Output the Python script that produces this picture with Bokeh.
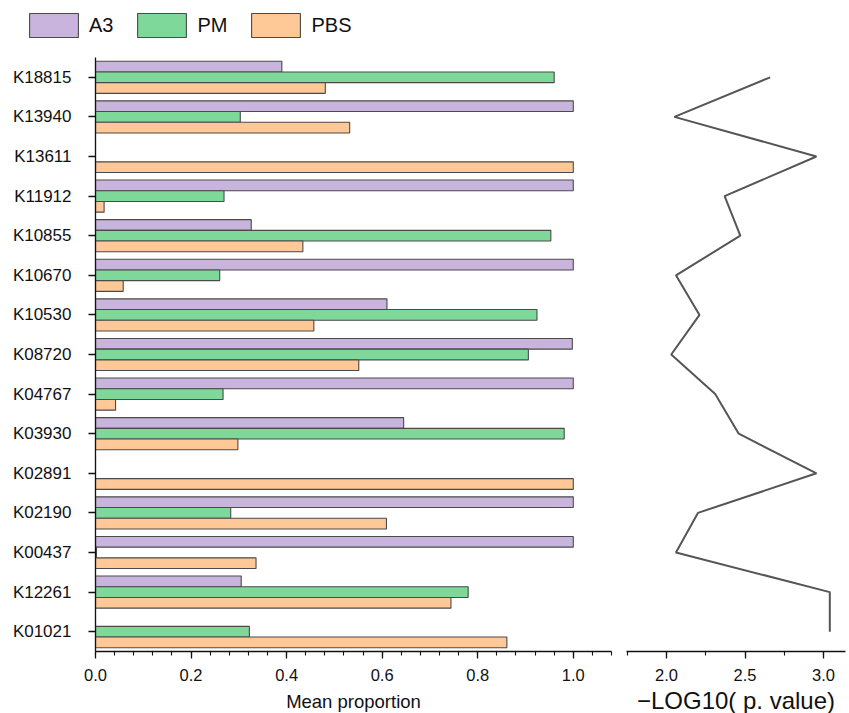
from bokeh.plotting import figure
from bokeh.models import (FactorRange, Range1d, SingleIntervalTicker, Legend, LegendItem,
                          ColumnDataSource, NumeralTickFormatter)
from bokeh.transform import dodge
from bokeh.layouts import row, column
from bokeh.embed import file_html
from bokeh.resources import INLINE

genes = ["K18815", "K13940", "K13611", "K11912", "K10855", "K10670", "K10530",
         "K08720", "K04767", "K03930", "K02891", "K02190", "K00437", "K12261", "K01021"]
a3 = [0.39, 1.0, 0.0, 1.0, 0.326, 1.0, 0.61, 0.998, 1.0, 0.645, 0.0, 1.0, 1.0, 0.305, 0.0]
pm = [0.96, 0.303, 0.0, 0.269, 0.953, 0.26, 0.924, 0.906, 0.267, 0.981, 0.0, 0.283, 0.002, 0.78, 0.322]
pbs = [0.481, 0.532, 1.0, 0.018, 0.434, 0.058, 0.457, 0.551, 0.042, 0.298, 1.0, 0.609, 0.336, 0.744, 0.861]
neglog_p = [2.66, 2.05, 2.955, 2.37, 2.47, 2.06, 2.21, 2.03, 2.31, 2.46, 2.955, 2.2, 2.06, 3.04, 3.04]

series_names = ["A3", "PM", "PBS"]
colors = ["#C8B4DC", "#7ED89A", "#FFC896"]
FONT = "Liberation Sans"
FRAME_H = 594
TOP_H = 57
BOTTOM = 62
OUTLINE = "#4a4a4a"

src = ColumnDataSource(dict(gene=genes, A3=a3, PM=pm, PBS=pbs, p=neglog_p))

y_range = FactorRange(factors=genes[::-1], range_padding=0)

# ---- legend strip on top (its bars lie outside its own ranges, only the legend shows) ----
pl = figure(width=616, height=TOP_H, x_range=Range1d(5, 6), y_range=Range1d(1, 2),
            output_backend="svg", toolbar_location=None,
            x_axis_location=None, y_axis_location=None,
            min_border_left=0, min_border_right=0, min_border_top=0, min_border_bottom=0)
pl.xgrid.visible = False
pl.ygrid.visible = False
pl.outline_line_color = None
legend_renderers = []
for name, col in zip(series_names, colors):
    r = pl.hbar(y=0, right=name, left=0, height=0.27, source=src, fill_color=col,
                line_color=OUTLINE, line_width=1.1)
    legend_renderers.append(r)
legend = Legend(items=[LegendItem(label=n, renderers=[r]) for n, r in zip(series_names, legend_renderers)],
                orientation="horizontal", location=(23, TOP_H - 40),
                glyph_width=61, glyph_height=30, label_standoff=5, spacing=18,
                padding=0, margin=0, border_line_color=None, background_fill_alpha=0,
                label_text_font=FONT, label_text_font_size="20px", label_text_color="#111111")
pl.add_layout(legend, "center")

# ---- bar panel ----
p1 = figure(frame_width=516, frame_height=FRAME_H, y_range=y_range, x_range=Range1d(0, 1.08),
            output_backend="svg", toolbar_location=None,
            min_border_left=95, min_border_right=5, min_border_top=0, min_border_bottom=BOTTOM)

offsets = [0.27, 0.0, -0.27]
for name, col, off in zip(series_names, colors, offsets):
    p1.hbar(y=dodge("gene", off, range=y_range), right=name, left=0, height=0.27,
            source=src, fill_color=col, line_color=OUTLINE, line_width=1.1)

# ---- p-value panel ----
p2 = figure(frame_width=219, frame_height=FRAME_H, y_range=y_range, x_range=Range1d(1.745, 3.14),
            output_backend="svg", toolbar_location=None, y_axis_location=None,
            min_border_left=10, min_border_right=2, min_border_top=0, min_border_bottom=BOTTOM)
p2.line(x="p", y="gene", source=src, line_color="#555555", line_width=2)

p1.xaxis.ticker = SingleIntervalTicker(interval=0.2, num_minor_ticks=5)
p1.xaxis.axis_label = "Mean proportion"
p2.xaxis.ticker = SingleIntervalTicker(interval=0.5, num_minor_ticks=2)
p2.xaxis.axis_label = "\u2212LOG10( p. value)"

for p in (p1, p2):
    p.xgrid.visible = False
    p.ygrid.visible = False
    p.outline_line_color = None
    p.xaxis.formatter = NumeralTickFormatter(format="0.0")
    p.xaxis.axis_line_color = "#111111"
    p.xaxis.axis_line_width = 1.3
    p.xaxis.major_tick_line_color = "#111111"
    p.xaxis.major_tick_line_width = 1.3
    p.xaxis.minor_tick_line_color = "#111111"
    p.xaxis.minor_tick_line_width = 1.1
    p.xaxis.major_tick_out = 7
    p.xaxis.major_tick_in = 0
    p.xaxis.minor_tick_out = 4
    p.xaxis.minor_tick_in = 0
    p.xaxis.major_label_text_font = FONT
    p.xaxis.major_label_text_font_size = "16.5px"
    p.xaxis.major_label_text_color = "#111111"
    p.xaxis.major_label_standoff = 10
    p.xaxis.axis_label_text_font = FONT
    p.xaxis.axis_label_text_font_style = "normal"
    p.xaxis.axis_label_text_color = "#111111"
    p.xaxis.axis_label_standoff = 7

p1.xaxis.axis_label_text_font_size = "18.5px"
p2.xaxis.axis_label_text_font_size = "24px"
p2.xaxis.axis_label_standoff = 3

p1.yaxis.axis_line_color = "#111111"
p1.yaxis.axis_line_width = 1.3
p1.yaxis.major_tick_line_color = "#111111"
p1.yaxis.major_tick_line_width = 1.3
p1.yaxis.major_tick_out = 7
p1.yaxis.major_tick_in = 0
p1.yaxis.major_label_text_font = FONT
p1.yaxis.major_label_text_font_size = "17px"
p1.yaxis.major_label_text_color = "#111111"
p1.yaxis.major_label_standoff = 17

layout = column(pl, row(p1, p2))
open("out.html", "w").write(file_html(layout, INLINE))
